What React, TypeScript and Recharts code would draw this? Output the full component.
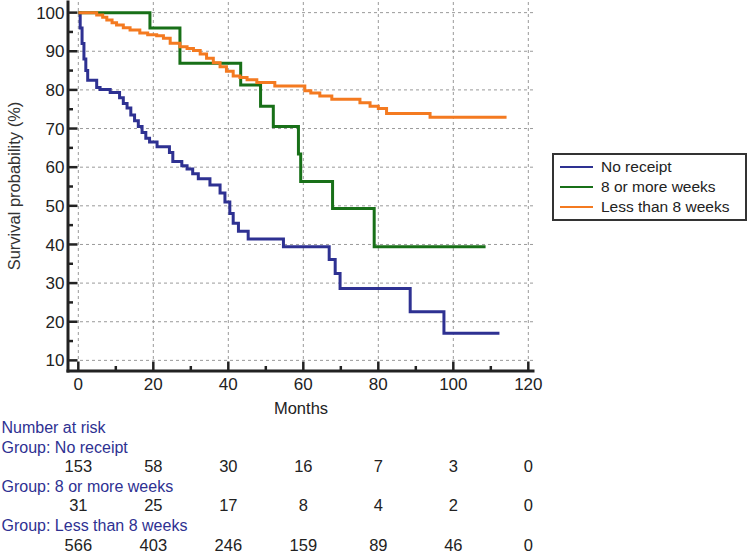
import { LineChart, Line, XAxis, YAxis, ReferenceLine } from 'recharts';

// Kaplan-Meier step points (month, survival %)
const noReceiptMonths = [0, 0.5, 1, 1.5, 2, 2.5, 4.9, 5.8, 8.5, 11, 12, 13, 14, 15, 16, 17, 18, 19, 21, 24.3, 25.2, 27.6, 29, 30.5, 32, 35.1, 37.8, 39.1, 40.4, 41.3, 42.7, 45.3, 54.7, 66.9, 68.5, 69.8, 88.5, 97.5, 112.3];
const noReceiptSurvival = [100, 96, 92, 88, 85, 82.5, 80.6, 80.1, 79.3, 78.0, 76.5, 75.3, 73.5, 72, 70.5, 69, 67.5, 66.5, 65.3, 63.8, 61.5, 60.4, 59.5, 58.3, 57.0, 55.4, 53.3, 51.0, 48.0, 45.5, 43.4, 41.4, 39.4, 36.1, 32.5, 28.6, 22.6, 17.0, 17.0];

const eightPlusMonths = [0, 19.1, 27.1, 43.3, 48.6, 52.0, 58.7, 59.3, 67.8, 78.9, 108.6];
const eightPlusSurvival = [100, 96.0, 86.9, 81.3, 75.8, 70.5, 63.4, 56.3, 49.3, 39.4, 39.4];

const lessEightMonths = [0, 4.9, 6.5, 7.6, 9, 10.2, 12, 13.8, 16.4, 18.5, 20.9, 22.7, 24.5, 27.1, 29, 30.7, 32.5, 34.2, 36, 37.8, 39.5, 41.3, 43.1, 45, 47.6, 52.4, 60.4, 62, 64.4, 67.6, 75.1, 77.8, 80.0, 82.2, 93.8, 114.2];
const lessEightSurvival = [100, 99.4, 98.8, 98.1, 97.4, 96.8, 96.1, 95.5, 94.7, 94.3, 94.0, 93.4, 92.1, 91.2, 90.7, 90.2, 89.3, 88.2, 87.0, 86.0, 84.8, 83.6, 83.2, 82.6, 81.9, 81.0, 79.8, 79.2, 78.4, 77.6, 76.7, 75.8, 75.2, 73.9, 72.9, 72.9];

const xTicks = [0, 10, 20, 30, 40, 50, 60, 70, 80, 90, 100, 110, 120];
const xMajor = [0, 20, 40, 60, 80, 100, 120];
const yTicks = [10, 15, 20, 25, 30, 35, 40, 45, 50, 55, 60, 65, 70, 75, 80, 85, 90, 95, 100];
const yMajor = [10, 20, 30, 40, 50, 60, 70, 80, 90, 100];

const riskTimes = [0, 20, 40, 60, 80, 100, 120];
const riskNoReceipt = [153, 58, 30, 16, 7, 3, 0];
const riskEightPlus = [31, 25, 17, 8, 4, 2, 0];
const riskLessEight = [566, 403, 246, 159, 89, 46, 0];

const toPoints = (m: number[], s: number[]) => m.map((t, i) => ({ t, s: s[i] }));

const series = [
  { name: 'No receipt', color: '#2e3192', data: toPoints(noReceiptMonths, noReceiptSurvival), risk: riskNoReceipt },
  { name: '8 or more weeks', color: '#187018', data: toPoints(eightPlusMonths, eightPlusSurvival), risk: riskEightPlus },
  { name: 'Less than 8 weeks', color: '#f47a20', data: toPoints(lessEightMonths, lessEightSurvival), risk: riskLessEight },
];

const X_DOMAIN: [number, number] = [-2.75, 121.25];
const Y_DOMAIN: [number, number] = [7.25, 102.75];
const PLOT_LEFT = 68;
const PLOT_W = 465;
const X_GAP = 6.5;
const Y_GAP = 3.5;
const FONT = '"Liberation Sans", Arial, sans-serif';
const INK = '#222';
const TEXT_BLUE = '#2e3192';

const riskX = (t: number) => PLOT_LEFT + ((t - X_DOMAIN[0]) / (X_DOMAIN[1] - X_DOMAIN[0])) * PLOT_W;

function XTick(props: any) {
  const { x, y, payload } = props;
  const v = payload.value;
  const major = v % 20 === 0;
  const axisY = y - X_GAP;
  return (
    <g>
      <line x1={x} x2={x} y1={axisY} y2={axisY - (major ? 9.5 : 5)} stroke={INK} strokeWidth={2.5} />
      {major && (
        <text x={x} y={y} dy="0.71em" textAnchor="middle" fontSize={17} fill={INK} fontFamily={FONT}>
          {v}
        </text>
      )}
    </g>
  );
}

function YTick(props: any) {
  const { x, y, payload } = props;
  const v = payload.value;
  const major = v % 10 === 0;
  const axisX = x + Y_GAP;
  return (
    <g>
      <line x1={axisX} x2={axisX + (major ? 9.5 : 5)} y1={y} y2={y} stroke={INK} strokeWidth={2.5} />
      {major && (
        <text x={x} y={y} dy="0.36em" textAnchor="end" fontSize={17} fill={INK} fontFamily={FONT}>
          {v}
        </text>
      )}
    </g>
  );
}

export default function App() {
  const rowH = 19.55;
  const tableTop = 418.2;
  return (
    <div style={{ position: 'absolute', left: 0, top: 0, width: 750, height: 554, background: '#fff', fontFamily: FONT }}>
      <LineChart width={750} height={554} margin={{ top: 2, right: 217, bottom: 153, left: 8 }}>
        {xMajor.map((v) => (
          <ReferenceLine key={'gx' + v} x={v} stroke="#9a9a9a" strokeDasharray="3 3" strokeWidth={1} />
        ))}
        {yMajor.map((v) => (
          <ReferenceLine key={'gy' + v} y={v} stroke="#9a9a9a" strokeDasharray="3 3" strokeWidth={1} />
        ))}
        <XAxis
          dataKey="t"
          type="number"
          domain={X_DOMAIN}
          allowDataOverflow
          ticks={xTicks}
          interval={0}
          height={30}
          tickSize={0}
          tickMargin={X_GAP}
          tickLine={false}
          tick={<XTick />}
          axisLine={{ stroke: INK, strokeWidth: 3, strokeLinecap: 'square' }}
        />
        <YAxis
          type="number"
          domain={Y_DOMAIN}
          allowDataOverflow
          ticks={yTicks}
          interval={0}
          width={60}
          tickSize={0}
          tickMargin={Y_GAP}
          tickLine={false}
          tick={<YTick />}
          axisLine={{ stroke: INK, strokeWidth: 3, strokeLinecap: 'square' }}
        />
        {series.map((s) => (
          <Line
            key={s.name}
            data={s.data}
            dataKey="s"
            name={s.name}
            type="stepAfter"
            stroke={s.color}
            strokeWidth={3}
            dot={false}
            activeDot={false}
            isAnimationActive={false}
          />
        ))}
      </LineChart>

      {/* axis titles */}
      <div
        style={{
          position: 'absolute', left: 14, top: 186, transform: 'translate(-50%, -50%) rotate(-90deg)',
          whiteSpace: 'nowrap', fontSize: 16.5, color: '#333',
        }}
      >
        Survival probability (%)
      </div>
      <div style={{ position: 'absolute', left: 301, top: 408, transform: 'translate(-50%, -50%)', fontSize: 16.5, color: INK }}>
        Months
      </div>

      {/* legend */}
      <div
        style={{
          position: 'absolute', left: 552, top: 153, width: 191, height: 64, border: '2px solid #333',
          background: '#fff', boxSizing: 'content-box',
        }}
      >
        {series.map((s, i) => (
          <div key={s.name} style={{ position: 'absolute', left: 0, top: 2 + i * 20, height: 20, display: 'flex', alignItems: 'center' }}>
            <div style={{ width: 33, height: 2.5, background: s.color, marginLeft: 6 }} />
            <span style={{ marginLeft: 8, fontSize: 15.5, color: INK, whiteSpace: 'nowrap' }}>{s.name}</span>
          </div>
        ))}
      </div>

      {/* number at risk */}
      <div style={{ position: 'absolute', left: 1.5, top: tableTop, lineHeight: rowH + 'px', fontSize: 16, color: TEXT_BLUE, whiteSpace: 'nowrap' }}>
        Number at risk
      </div>
      {series.map((s, i) => (
        <div key={s.name}>
          <div
            style={{
              position: 'absolute', left: 1.5, top: tableTop + rowH * (1 + i * 2), lineHeight: rowH + 'px',
              fontSize: 16, color: TEXT_BLUE, whiteSpace: 'nowrap',
            }}
          >
            Group: {s.name}
          </div>
          {s.risk.map((n, j) => (
            <div
              key={j}
              style={{
                position: 'absolute', left: riskX(riskTimes[j]), top: tableTop + rowH * (2 + i * 2), lineHeight: rowH + 'px',
                transform: 'translateX(-50%)', fontSize: 16.5, color: INK,
              }}
            >
              {n}
            </div>
          ))}
        </div>
      ))}
    </div>
  );
}
